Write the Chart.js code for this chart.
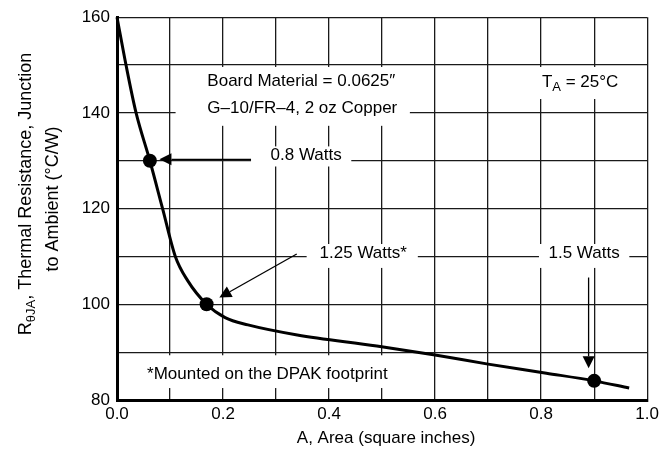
<!DOCTYPE html>
<html><head><meta charset="utf-8">
<script src="https://cdn.jsdelivr.net/npm/chart.js@4"></script>
<style>html,body{margin:0;padding:0;background:#fff}#wrap{width:663px;height:460px;position:relative}</style>
</head><body><div id="wrap"><canvas id="c"></canvas></div>
<script>
// ---- data ----
const areaSqIn   = [0, 0.017, 0.036, 0.062, 0.086, 0.11, 0.133, 0.169, 0.204, 0.247, 0.34, 0.49, 0.6, 0.7, 0.81, 0.9, 0.966];
const thermalRes = [160, 150, 140, 130, 120, 110, 105, 100, 97.2, 95.7, 93.6, 91.3, 89.4, 87.5, 85.6, 84, 82.5];
const markerArea = [0.062, 0.169, 0.9];
const markerRes  = [130, 100, 84];
const markerLabels = ['0.8 Watts', '1.25 Watts*', '1.5 Watts'];
const xTickLabels = [0.0, 0.2, 0.4, 0.6, 0.8, 1.0];
const yTickLabels = [80, 100, 120, 140, 160];
const xTitle = 'A, Area (square inches)';
const yTitle1 = ['R', 'θJA', ', Thermal Resistance, Junction'];
const yTitle2 = 'to Ambient (°C/W)';
const boardNote = ['Board Material = 0.0625″', 'G–10/FR–4, 2 oz Copper'];
const ambientNote = ['T', 'A', ' = 25°C'];
const footNote = '*Mounted on the DPAK footprint';

const FONT = "'Liberation Sans', Arial, sans-serif";
const FS = 17;      // body text size
const FT = 18;      // axis title size
const FSUB = 13;    // subscript size
Chart.defaults.font.family = FONT;
Chart.defaults.color = '#000';

// annotation layout (data coordinates)
const whiteBoxes = [
  [0.1105, 0.5524, 137.3, 149.6],   // board material
  [0.788, 0.957, 142.9, 149.6],     // TA
  [0.2528, 0.4419, 128.8, 133.0],   // 0.8 W
  [0.3577, 0.5674, 107.6, 112.6],   // 1.25 W
  [0.7959, 0.9663, 107.6, 112.6],   // 1.5 W
  [0.0393, 0.5262, 82.5, 89.35]     // footnote
];
const labelPos = [[0.3567, 131.2], [0.4644, 110.7], [0.881, 110.7]];
const arrows = [
  [0.2528, 130.3, 0.08, 130.3],
  [0.339, 110.5, 0.193, 101.4],
  [0.8895, 105.6, 0.8895, 86.65]
];

function runsWidth(ctx, runs) {
  let w = 0;
  runs.forEach(r => { ctx.font = r.size + 'px ' + FONT; w += ctx.measureText(r.t).width; });
  return w;
}
function drawRuns(ctx, runs, x, y, align) {
  const w = runsWidth(ctx, runs);
  let cx = align === 'center' ? x - w / 2 : x;
  ctx.textAlign = 'left'; ctx.textBaseline = 'middle';
  runs.forEach(r => {
    ctx.font = r.size + 'px ' + FONT;
    ctx.fillText(r.t, cx, y + (r.dy || 0));
    cx += ctx.measureText(r.t).width;
  });
}
function drawArrow(ctx, x0, y0, x1, y1, len, hw) {
  const dx = x1 - x0, dy = y1 - y0, d = Math.hypot(dx, dy);
  const ux = dx / d, uy = dy / d;
  const bx = x1 - ux * len, by = y1 - uy * len;
  ctx.beginPath(); ctx.moveTo(x0, y0); ctx.lineTo(bx, by); ctx.stroke();
  ctx.beginPath(); ctx.moveTo(x1, y1);
  ctx.lineTo(bx - uy * hw, by + ux * hw);
  ctx.lineTo(bx + uy * hw, by - ux * hw);
  ctx.closePath(); ctx.fill();
}

const notesPlugin = {
  id: 'notes',
  beforeDatasetsDraw(chart) {
    const { ctx, scales: { x, y } } = chart;
    ctx.save();
    ctx.fillStyle = '#fff';
    whiteBoxes.forEach(b => {
      const x0 = x.getPixelForValue(b[0]), x1 = x.getPixelForValue(b[1]);
      const y0 = y.getPixelForValue(b[3]), y1 = y.getPixelForValue(b[2]);
      ctx.fillRect(x0, y0, x1 - x0, y1 - y0);
    });
    ctx.fillStyle = '#000';
    const bx = x.getPixelForValue(0.1704);
    drawRuns(ctx, [{ t: boardNote[0], size: FS }], bx, y.getPixelForValue(146.5), 'left');
    drawRuns(ctx, [{ t: boardNote[1], size: FS }], bx, y.getPixelForValue(140.9), 'left');
    drawRuns(ctx, [{ t: ambientNote[0], size: FS }, { t: ambientNote[1], size: FSUB, dy: 5 }, { t: ambientNote[2], size: FS }],
      x.getPixelForValue(0.8015), y.getPixelForValue(146.3), 'left');
    markerLabels.forEach((l, i) => {
      drawRuns(ctx, [{ t: l, size: FS }], x.getPixelForValue(labelPos[i][0]), y.getPixelForValue(labelPos[i][1]), 'center');
    });
    drawRuns(ctx, [{ t: footNote, size: FS }], x.getPixelForValue(0.2837), y.getPixelForValue(85.3), 'center');
    ctx.strokeStyle = '#000'; ctx.lineWidth = 1.3;
    arrows.forEach(a => drawArrow(ctx, x.getPixelForValue(a[0]), y.getPixelForValue(a[1]),
      x.getPixelForValue(a[2]), y.getPixelForValue(a[3]), 12, 6));
    ctx.restore();
  },
  afterDraw(chart) {
    const { ctx, chartArea } = chart;
    ctx.save();
    ctx.fillStyle = '#000';
    ctx.font = FS + 'px ' + FONT; ctx.textAlign = 'center'; ctx.textBaseline = 'middle';
    ctx.fillText(xTitle, (chartArea.left + chartArea.right) / 2 + 4, 438);
    const runs1 = [{ t: yTitle1[0], size: FT }, { t: yTitle1[1], size: FSUB, dy: 5 }, { t: yTitle1[2], size: FT }];
    ctx.save(); ctx.translate(26, 194); ctx.rotate(-Math.PI / 2);
    drawRuns(ctx, runs1, 0, 0, 'center'); ctx.restore();
    ctx.save(); ctx.translate(53, 199); ctx.rotate(-Math.PI / 2);
    drawRuns(ctx, [{ t: yTitle2, size: FT }], 0, 0, 'center'); ctx.restore();
    ctx.restore();
  }
};

new Chart(document.getElementById('c'), {
  type: 'scatter',
  data: {
    datasets: [
      {
        data: markerArea.map((v, i) => ({ x: v, y: markerRes[i] })),
        showLine: false, pointRadius: 7, pointBackgroundColor: '#000', pointBorderWidth: 0, order: 0
      },
      {
        data: areaSqIn.map((v, i) => ({ x: v, y: thermalRes[i] })),
        showLine: true, borderColor: '#000', borderWidth: 3, pointRadius: 0,
        cubicInterpolationMode: 'monotone', fill: false, clip: false, order: 1
      }
    ]
  },
  options: {
    responsive: true, maintainAspectRatio: false, animation: false,
    layout: { padding: { top: 15, right: 12, left: 0, bottom: 0 } },
    plugins: { legend: { display: false }, tooltip: { enabled: false } },
    scales: {
      x: {
        type: 'linear', min: 0, max: 1,
        afterFit: s => { s.height = 60; },
        ticks: {
          stepSize: 0.1, autoSkip: false, maxRotation: 0, padding: 4,
          font: { size: FS }, color: '#000',
          callback: v => { const r = Math.round(v * 10) / 10; return xTickLabels.some(t => Math.abs(t - r) < 1e-9) ? r.toFixed(1) : ''; }
        },
        grid: { color: '#1a1a1a', lineWidth: 1.3, drawTicks: false },
        border: { color: '#000', width: 3 }
      },
      y: {
        type: 'linear', min: 80, max: 160,
        afterFit: s => { s.width = 117; },
        ticks: {
          stepSize: 10, autoSkip: false, padding: 7, font: { size: FS }, color: '#000',
          callback: v => yTickLabels.includes(v) ? String(v) : ''
        },
        grid: { color: '#1a1a1a', lineWidth: 1.3, drawTicks: false },
        border: { color: '#000', width: 3 }
      }
    }
  },
  plugins: [notesPlugin]
});
</script></body></html>
